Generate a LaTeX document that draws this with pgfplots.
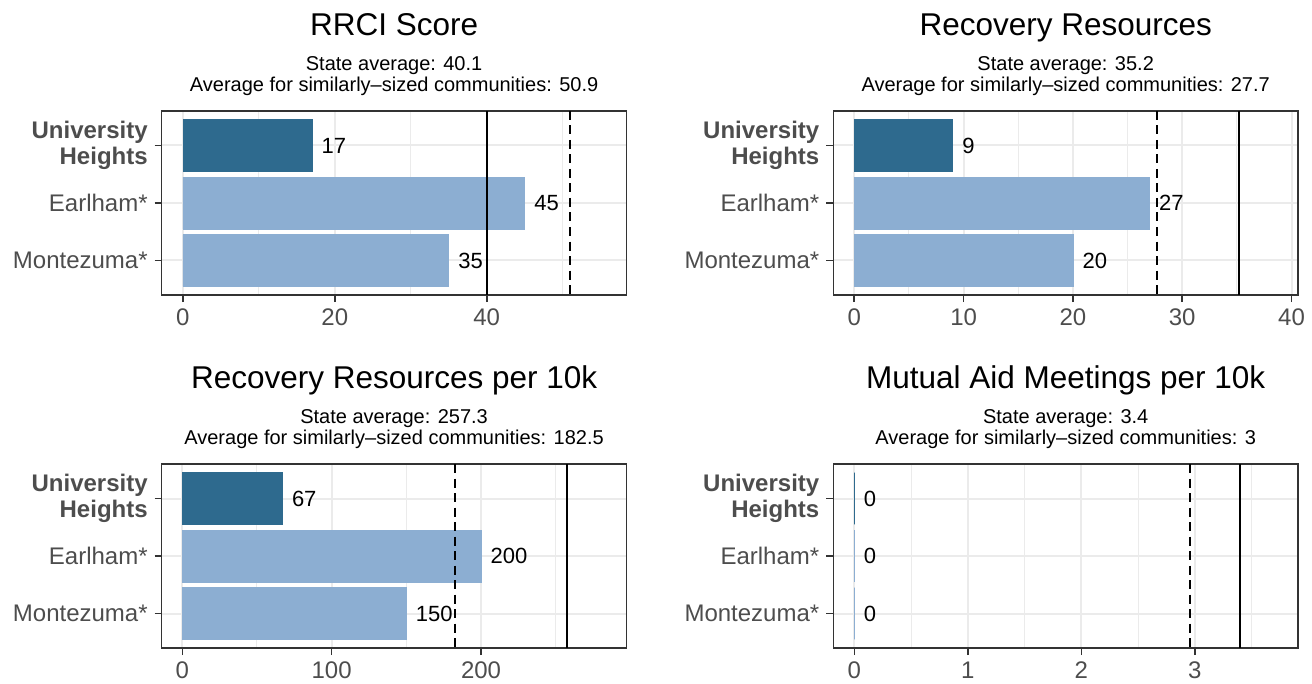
\documentclass[border=0pt]{standalone}
\usepackage{fontspec}
\setmainfont{Liberation Sans}
\usepackage{pgfplots}
\pgfplotsset{compat=1.18}
\definecolor{dark}{HTML}{2E6A8E}
\definecolor{light}{HTML}{8CAED2}
\definecolor{framec}{HTML}{333333}
\definecolor{ticktxt}{HTML}{4D4D4D}
\definecolor{gridc}{HTML}{EBEBEB}
\pgfplotsset{
  panel/.style={
    scale only axis, width=464.8pt, height=184pt,
    anchor=south west,
    ymin=0.4, ymax=3.6, y dir=reverse,
    ytick={1,2,3},
    yticklabels={{\textbf{University}\\\textbf{Heights}}, Earlham*, Montezuma*},
    yticklabel style={align=right, font=\fontsize{24}{26.5}\selectfont, text=ticktxt, xshift=-3.5pt},
    xticklabel style={font=\fontsize{24}{26}\selectfont, text=ticktxt, inner ysep=0.5pt, yshift=-6pt, text depth=0pt},
    /pgf/number format/assume math mode=true,
    axis line style={framec, line width=1.6pt},
    major tick style={framec, line width=1.6pt},
    major tick length=7pt, minor tick length=0pt,
    tick align=outside,
    xtick pos=bottom, ytick pos=left,
    xmajorgrids, ymajorgrids, xminorgrids,
    major grid style={gridc, line width=2pt},
    minor grid style={gridc, line width=1pt},
  },
  bars/.style={xbar, bar width=0.9, bar shift=0pt, fill=#1, draw=#1, line width=0.6pt,
    point meta=x, nodes near coords,
    nodes near coords style={anchor=west, xshift=6pt, font=\fontsize{22}{24}\selectfont, text=black}},
  stateline/.style={black, line width=2pt, mark=none},
  simline/.style={black, line width=2pt, mark=none, dash pattern=on 9pt off 5.5pt},
}
\tikzset{
  ttl/.style={anchor=base, font=\fontsize{31.5}{34}\selectfont},
  sub/.style={anchor=base, align=center, font=\fontsize{20}{22}\selectfont},
}
\begin{document}
\begin{tikzpicture}
\path[use as bounding box] (0,0) rectangle (1312pt,683pt);
% Panel 1
\begin{axis}[panel, name=p1, at={(161.7pt,388pt)}, xmin=-2.78, xmax=58.4, xtick={0,20,40}, minor xtick={10,30,50}]
\addplot[bars=dark] coordinates {(17,1)};
\addplot[bars=light] coordinates {(45,2) (35,3)};
\addplot[stateline] coordinates {(40.1,0.4) (40.1,3.6)};
\addplot[simline] coordinates {(50.9,0.4) (50.9,3.6)};
\end{axis}
\node[ttl] at ([yshift=75pt]p1.north) {RRCI Score};
\node[sub] at ([yshift=40pt]p1.north) {State average: 40.1};
\node[sub] at ([yshift=19pt]p1.north) {Average for similarly--sized communities: 50.9};
% Panel 2
\begin{axis}[panel, name=p2, at={(833.3pt,388pt)}, xmin=-1.92, xmax=40.6, xtick={0,10,20,30,40}, minor xtick={5,15,25,35}]
\addplot[bars=dark] coordinates {(9,1)};
\addplot[bars=light] coordinates {(27,2) (20,3)};
\addplot[stateline] coordinates {(35.2,0.4) (35.2,3.6)};
\addplot[simline] coordinates {(27.7,0.4) (27.7,3.6)};
\end{axis}
\node[ttl] at ([yshift=75pt]p2.north) {Recovery Resources};
\node[sub] at ([yshift=40pt]p2.north) {State average: 35.2};
\node[sub] at ([yshift=19pt]p2.north) {Average for similarly--sized communities: 27.7};
% Panel 3
\begin{axis}[panel, name=p3, at={(161.7pt,35pt)}, xmin=-13.8, xmax=297.4, xtick={0,100,200}, minor xtick={50,150,250}]
\addplot[bars=dark] coordinates {(67,1)};
\addplot[bars=light] coordinates {(200,2) (150,3)};
\addplot[stateline] coordinates {(257.3,0.4) (257.3,3.6)};
\addplot[simline] coordinates {(182.5,0.4) (182.5,3.6)};
\end{axis}
\node[ttl] at ([yshift=75pt]p3.north) {Recovery Resources per 10k};
\node[sub] at ([yshift=40pt]p3.north) {State average: 257.3};
\node[sub] at ([yshift=19pt]p3.north) {Average for similarly--sized communities: 182.5};
% Panel 4
\begin{axis}[panel, name=p4, at={(833.3pt,35pt)}, xmin=-0.185, xmax=3.91, xtick={0,1,2,3}, minor xtick={0.5,1.5,2.5,3.5}]
\addplot[bars=dark] coordinates {(0,1)};
\addplot[bars=light] coordinates {(0,2) (0,3)};
\addplot[stateline] coordinates {(3.4,0.4) (3.4,3.6)};
\addplot[simline] coordinates {(2.96,0.4) (2.96,3.6)};
\end{axis}
\node[ttl] at ([yshift=75pt]p4.north) {Mutual Aid Meetings per 10k};
\node[sub] at ([yshift=40pt]p4.north) {State average: 3.4};
\node[sub] at ([yshift=19pt]p4.north) {Average for similarly--sized communities: 3};
\end{tikzpicture}
\end{document}
